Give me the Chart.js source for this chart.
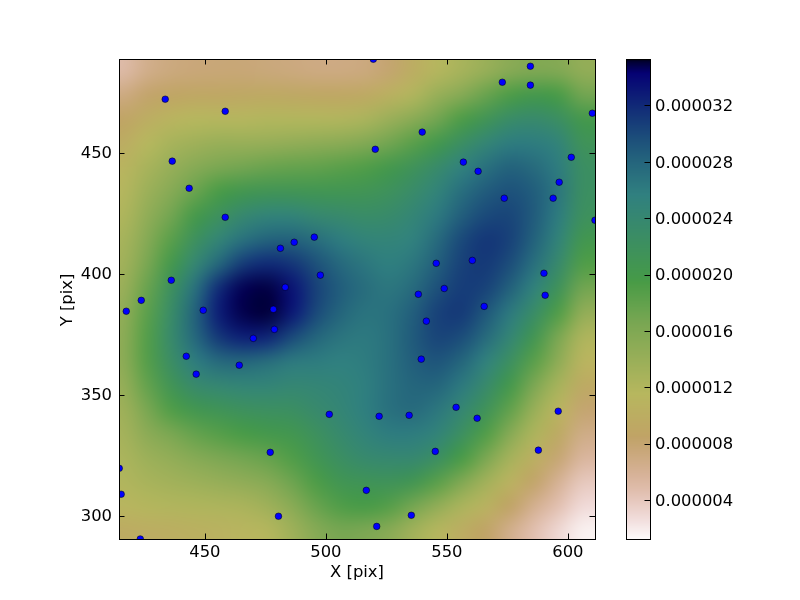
<!DOCTYPE html>
<html>
<head>
<meta charset="utf-8">
<script src="https://cdn.jsdelivr.net/npm/chart.js@4"></script>
<style>
    html, body { margin: 0; padding: 0; background: #fff; }
    canvas { position: absolute; left: 0; top: 0; }
</style>
</head>
<body>
<canvas id="mainChart" width="800" height="600"></canvas>
<canvas id="barChart" width="800" height="600"></canvas>
<script>
// Scatter points
var pointX = [433.6, 458.4, 436.5, 443.5, 458.4, 481.2, 486.9, 495.2, 497.7, 483.2, 436.1, 423.7,
    417.5, 449.3, 478.3, 478.7, 470, 442.3, 446.4, 464.2, 501.4, 477, 414.6, 415.4, 480.4, 423.3,
    519.6, 584.5, 572.9, 584.5, 610.1, 539.8, 520.4, 601.4, 556.8, 562.9, 596.4, 573.7, 593.9, 611.2,
    560.5, 545.6, 590.1, 538.2, 548.9, 590.6, 565.4,
    541.5, 539.4, 522, 534.4, 553.8, 562.5, 596, 545.2, 587.8, 516.7, 535.3, 521];
var pointY = [472.2, 467.2, 446.6, 435.4, 423.4, 410.6, 413.1, 415.2, 399.5, 394.5, 397.4, 389.1,
    384.6, 385, 385.4, 377.1, 373.4, 366, 358.6, 362.3, 342, 326.3, 319.7, 309, 299.9, 290.5,
    488.7, 485.8, 479.2, 478, 466.4, 458.6, 451.5, 448.2, 446.2, 442.4, 437.9, 431.3, 431.3, 422.2,
    405.6, 404.4, 400.3, 391.6, 394, 391.2, 386.6,
    380.5, 364.8, 341.2, 341.6, 344.9, 340.4, 343.3, 326.7, 327.2, 310.6, 300.3, 295.7];

// Density, in units of 1e-6. Rows follow gridY, columns follow gridX
var gridX = [416, 426, 436, 446, 456, 466, 476, 486, 496, 506, 516, 526, 536, 546, 556, 566, 576, 586, 596, 606];
var gridY = [294, 304, 314, 324, 334, 344, 354, 364, 374, 384, 394, 404, 414, 424, 434, 444, 454, 464, 474, 484];
var density = [
    [9.7, 10, 10.2, 10.5, 10.8, 11.2, 11.8, 13.5, 15.5, 16.7, 16.3, 15.3, 13.3, 11.7, 10, 8.5, 6.5, 4.6, 3, 1.7],
    [11.3, 11.8, 12, 12.2, 12.3, 12.6, 13.5, 15.2, 17.5, 19, 19.5, 18.7, 16.8, 14.5, 12.5, 10.8, 8.5, 6.3, 4.5, 2.8],
    [12, 12.7, 13.2, 13.7, 14.2, 14.7, 15.5, 17.2, 19.2, 20.8, 21.3, 21.5, 20.7, 18.5, 16, 13.2, 10.7, 8.3, 6, 4],
    [12.5, 13.7, 14.5, 15.5, 16.3, 17, 17.7, 19, 20.8, 22.5, 23.7, 24, 24, 22.5, 19.5, 16.5, 13, 10.3, 7.8, 5.5],
    [13, 15, 16.5, 17.8, 18.7, 19.5, 20, 20.5, 22, 23.7, 25, 26, 26, 25, 22.3, 19, 15.5, 12.3, 9.5, 6.8],
    [13.5, 16.5, 19, 20.5, 21.3, 22, 22.3, 22.5, 23.5, 24.5, 25.8, 27, 27.5, 26.5, 24.3, 21.5, 18, 14, 11, 8],
    [14.2, 17.8, 21, 23.5, 24.3, 24.7, 24.7, 24.3, 24.5, 25, 25.8, 27, 28, 28, 26.3, 23.5, 20, 16.3, 12.8, 9.5],
    [14.8, 18.7, 22.7, 26, 27.7, 28, 27.3, 26.3, 26, 25.7, 26, 27, 28.5, 29.2, 28, 25.5, 22.3, 18.5, 14.8, 11],
    [14.8, 18.8, 23.4, 27.8, 31.2, 32.6, 32.3, 30, 28, 26.7, 26.3, 27, 28.8, 30.3, 29.8, 27.5, 24.5, 20.7, 16.5, 12.3],
    [14.5, 18.3, 23, 28.2, 32.8, 34.8, 35, 33, 30, 28, 26.8, 27, 28.5, 30.5, 31, 29, 26.3, 23, 19, 14.5],
    [13.8, 17.5, 22, 27, 32, 34.7, 34.9, 33.3, 30.5, 28.6, 27.3, 26.5, 27.5, 29.5, 30.8, 30.4, 28.3, 25.3, 21.5, 17],
    [13.2, 16.5, 20, 24.3, 28, 31, 32, 31.3, 29.5, 27.7, 26.5, 25.8, 26.5, 28.5, 30.5, 31, 29.7, 27, 23.5, 19],
    [12.8, 15.5, 18.5, 22, 24.7, 27, 28.2, 28.3, 27.3, 26, 25, 24.8, 25.5, 27.5, 30, 31.2, 30.5, 28.2, 25, 20.5],
    [12.2, 14.6, 17, 19.8, 22, 24, 25, 25, 24, 23.5, 23, 23.3, 24.5, 26.3, 28.5, 30, 30.2, 28.7, 26, 22],
    [11.7, 13.7, 15.5, 17.5, 19.5, 20.5, 21, 21, 20.8, 20.8, 21, 21.8, 23.2, 25, 27.2, 28.7, 29.4, 28.6, 26.5, 22.5],
    [11, 12.7, 14.2, 15.5, 16.5, 17, 17.5, 17.8, 18, 18.5, 19, 20, 21.5, 23.3, 25.5, 27, 28.2, 27.5, 26, 22.5],
    [9.8, 11.6, 12.8, 13.5, 14, 14, 14.2, 14.5, 14.8, 15.2, 15.8, 17, 18.5, 20.2, 22.5, 24.5, 26, 26, 25, 21.5],
    [8.6, 10, 11, 11.6, 11.7, 11.7, 11.9, 11.9, 11.9, 12, 12.5, 13.8, 15.2, 17, 19.2, 21, 23, 23.5, 22.5, 20],
    [7, 8.2, 8.7, 9, 9.1, 9.2, 9.3, 9.2, 9.1, 9.1, 9.4, 10.5, 12, 14, 15.5, 17.5, 19.2, 20, 19.5, 17],
    [5, 6.5, 7.2, 7.5, 7.6, 7.6, 7.4, 7.2, 7, 7, 7.2, 8, 10, 11.7, 12.8, 14, 15.3, 16, 15.8, 14.5]
];
var densityMin = 1.23;
var densityMax = 35.3;

var xTicks = [450, 500, 550, 600];
var yTicks = [300, 350, 400, 450];
var barTicks = [0.000004, 0.000008, 0.000012, 0.000016, 0.00002, 0.000024, 0.000028, 0.000032];

// gist_earth colormap, used reversed
var redStops = [[0, 0], [0.2824, 0.1882], [0.4588, 0.2714], [0.549, 0.4719], [0.698, 0.7176], [0.7882, 0.7553], [1, 0.9922]];
var greenStops = [[0, 0], [0.0275, 0], [0.1098, 0.1893], [0.1647, 0.3035], [0.2078, 0.3841], [0.2824, 0.502], [0.5216, 0.6397], [0.698, 0.7171], [0.7882, 0.6392], [0.8157, 0.6549], [0.8667, 0.6991], [0.898, 0.743], [0.9412, 0.8275], [0.9647, 0.8816], [1, 0.9843]];
var blueStops = [[0, 0], [0.0039, 0.1684], [0.0078, 0.2212], [0.0275, 0.4329], [0.0314, 0.4549], [0.2824, 0.5004], [0.4667, 0.2748], [0.5451, 0.3205], [0.7843, 0.3961], [0.8941, 0.6651], [1, 0.9843]];

var fontFamily = '"DejaVu Sans"';
var fontSize = 16.4;

function channel(stops, t) {
    for (var i = 1; i < stops.length; i++) {
        if (t <= stops[i][0]) {
            var f = (t - stops[i - 1][0]) / (stops[i][0] - stops[i - 1][0]);
            return Math.round(255 * (stops[i - 1][1] + f * (stops[i][1] - stops[i - 1][1])));
        }
    }
    return Math.round(255 * stops[stops.length - 1][1]);
}

function densityColor(v) {
    var t = 1 - (v - densityMin) / (densityMax - densityMin);
    t = Math.max(0, Math.min(1, t));
    return 'rgb(' + channel(redStops, t) + ',' + channel(greenStops, t) + ',' + channel(blueStops, t) + ')';
}

// Axis text sits a little high with a middle baseline, so nudge it down while the scales draw
function labelNudge(dy) {
    return {
        id: 'labelNudge',
        beforeDraw: function (chart) {
            chart.ctx.save();
            chart.ctx.translate(0, dy);
        },
        beforeDatasetsDraw: function (chart) {
            chart.ctx.restore();
        }
    };
}

// Paints the density grid as smoothed cells, placed with the chart's own scales
var heatPlugin = {
    id: 'heat',
    beforeDatasetsDraw: function (chart) {
        var ctx = chart.ctx, area = chart.chartArea;
        var nx = gridX.length, ny = gridY.length;
        var cells = document.createElement('canvas');
        cells.width = nx;
        cells.height = ny;
        var cctx = cells.getContext('2d');
        for (var r = 0; r < ny; r++) {
            for (var c = 0; c < nx; c++) {
                cctx.fillStyle = densityColor(density[r][c]);
                cctx.fillRect(c, ny - 1 - r, 1, 1);
            }
        }
        var halfX = (gridX[1] - gridX[0]) / 2, halfY = (gridY[1] - gridY[0]) / 2;
        var left = chart.scales.x.getPixelForValue(gridX[0] - halfX);
        var right = chart.scales.x.getPixelForValue(gridX[nx - 1] + halfX);
        var top = chart.scales.y.getPixelForValue(gridY[ny - 1] + halfY);
        var bottom = chart.scales.y.getPixelForValue(gridY[0] - halfY);
        ctx.save();
        ctx.beginPath();
        ctx.rect(area.left, area.top, area.right - area.left, area.bottom - area.top);
        ctx.clip();
        ctx.imageSmoothingEnabled = true;
        ctx.imageSmoothingQuality = 'high';
        ctx.drawImage(cells, left, top, right - left, bottom - top);
        ctx.restore();
    }
};

// Inward tick marks on all four sides, and the frame
var framePlugin = {
    id: 'frame',
    afterDraw: function (chart) {
        var ctx = chart.ctx, area = chart.chartArea, len = 5.5;
        ctx.save();
        ctx.strokeStyle = '#000';
        ctx.lineWidth = 1;
        ctx.beginPath();
        xTicks.forEach(function (v) {
            var px = Math.round(chart.scales.x.getPixelForValue(v)) + 0.5;
            ctx.moveTo(px, area.top);
            ctx.lineTo(px, area.top + len);
            ctx.moveTo(px, area.bottom);
            ctx.lineTo(px, area.bottom - len);
        });
        yTicks.forEach(function (v) {
            var py = Math.round(chart.scales.y.getPixelForValue(v)) + 0.5;
            ctx.moveTo(area.left, py);
            ctx.lineTo(area.left + len, py);
            ctx.moveTo(area.right, py);
            ctx.lineTo(area.right - len, py);
        });
        ctx.stroke();
        ctx.strokeRect(area.left + 0.5, area.top + 0.5, area.right - area.left, area.bottom - area.top);
        ctx.restore();
    }
};

// Colour bar column, one row of pixels per step of its scale
var barPlugin = {
    id: 'colorbar',
    beforeDatasetsDraw: function (chart) {
        var ctx = chart.ctx, area = chart.chartArea, scale = chart.scales.y;
        for (var py = Math.floor(area.top); py < area.bottom; py++) {
            ctx.fillStyle = densityColor(scale.getValueForPixel(py + 0.5) * 1e6);
            ctx.fillRect(area.left, py, area.right - area.left, 1);
        }
    },
    afterDraw: function (chart) {
        var ctx = chart.ctx, area = chart.chartArea, scale = chart.scales.y;
        ctx.save();
        ctx.strokeStyle = '#000';
        ctx.lineWidth = 1;
        ctx.beginPath();
        barTicks.forEach(function (v) {
            var py = Math.round(scale.getPixelForValue(v)) + 0.5;
            ctx.moveTo(area.right, py);
            ctx.lineTo(area.right - 5.5, py);
        });
        ctx.stroke();
        ctx.strokeRect(area.left + 0.5, area.top + 0.5, area.right - area.left, area.bottom - area.top);
        ctx.restore();
    }
};

function axisFont() {
    return { family: fontFamily, size: fontSize };
}

var points = pointX.map(function (x, i) {
    return { x: x, y: pointY[i] };
});

new Chart(document.getElementById('mainChart').getContext('2d'), {
    type: 'scatter',
    data: {
        datasets: [{
            data: points,
            backgroundColor: '#0000ff',
            borderColor: '#000000',
            borderWidth: 0.5,
            pointRadius: 3.3
        }]
    },
    options: {
        responsive: false,
        animation: false,
        layout: { padding: { left: 58, right: 205, top: 59, bottom: 18 } },
        plugins: { legend: { display: false }, tooltip: { enabled: false } },
        scales: {
            x: {
                type: 'linear',
                min: 414.5,
                max: 611.2,
                grid: { display: false, drawTicks: false },
                border: { display: false },
                title: { display: true, text: 'X [pix]', color: '#000', font: axisFont(), padding: 0 },
                ticks: { color: '#000', font: axisFont(), padding: 3, maxRotation: 0, autoSkip: false },
                afterBuildTicks: function (scale) {
                    scale.ticks = xTicks.map(function (v) { return { value: v }; });
                },
                afterFit: function (scale) { scale.height = 43; }
            },
            y: {
                type: 'linear',
                min: 290.5,
                max: 488.8,
                grid: { display: false, drawTicks: false },
                border: { display: false },
                title: { display: true, text: 'Y [pix]', color: '#000', font: axisFont(), padding: 0 },
                ticks: { color: '#000', font: axisFont(), padding: 7, autoSkip: false },
                afterBuildTicks: function (scale) {
                    scale.ticks = yTicks.map(function (v) { return { value: v }; });
                },
                afterFit: function (scale) { scale.width = 61; }
            }
        }
    },
    plugins: [labelNudge(1), heatPlugin, framePlugin]
});

new Chart(document.getElementById('barChart').getContext('2d'), {
    type: 'bar',
    data: { labels: [''], datasets: [{ data: [], backgroundColor: 'transparent' }] },
    options: {
        responsive: false,
        animation: false,
        layout: { padding: { left: 626, right: 50, top: 59, bottom: 61 } },
        plugins: { legend: { display: false }, tooltip: { enabled: false } },
        scales: {
            x: { display: false },
            y: {
                type: 'linear',
                position: 'right',
                min: 0.00000123,
                max: 0.0000353,
                grid: { display: false, drawTicks: false },
                border: { display: false },
                ticks: {
                    color: '#000',
                    font: axisFont(),
                    padding: 5,
                    autoSkip: false,
                    callback: function (v) { return v.toFixed(6); }
                },
                afterBuildTicks: function (scale) {
                    scale.ticks = barTicks.map(function (v) { return { value: v }; });
                },
                afterFit: function (scale) { scale.width = 100; }
            }
        }
    },
    plugins: [labelNudge(1.5), barPlugin]
});
</script>
</body>
</html>
